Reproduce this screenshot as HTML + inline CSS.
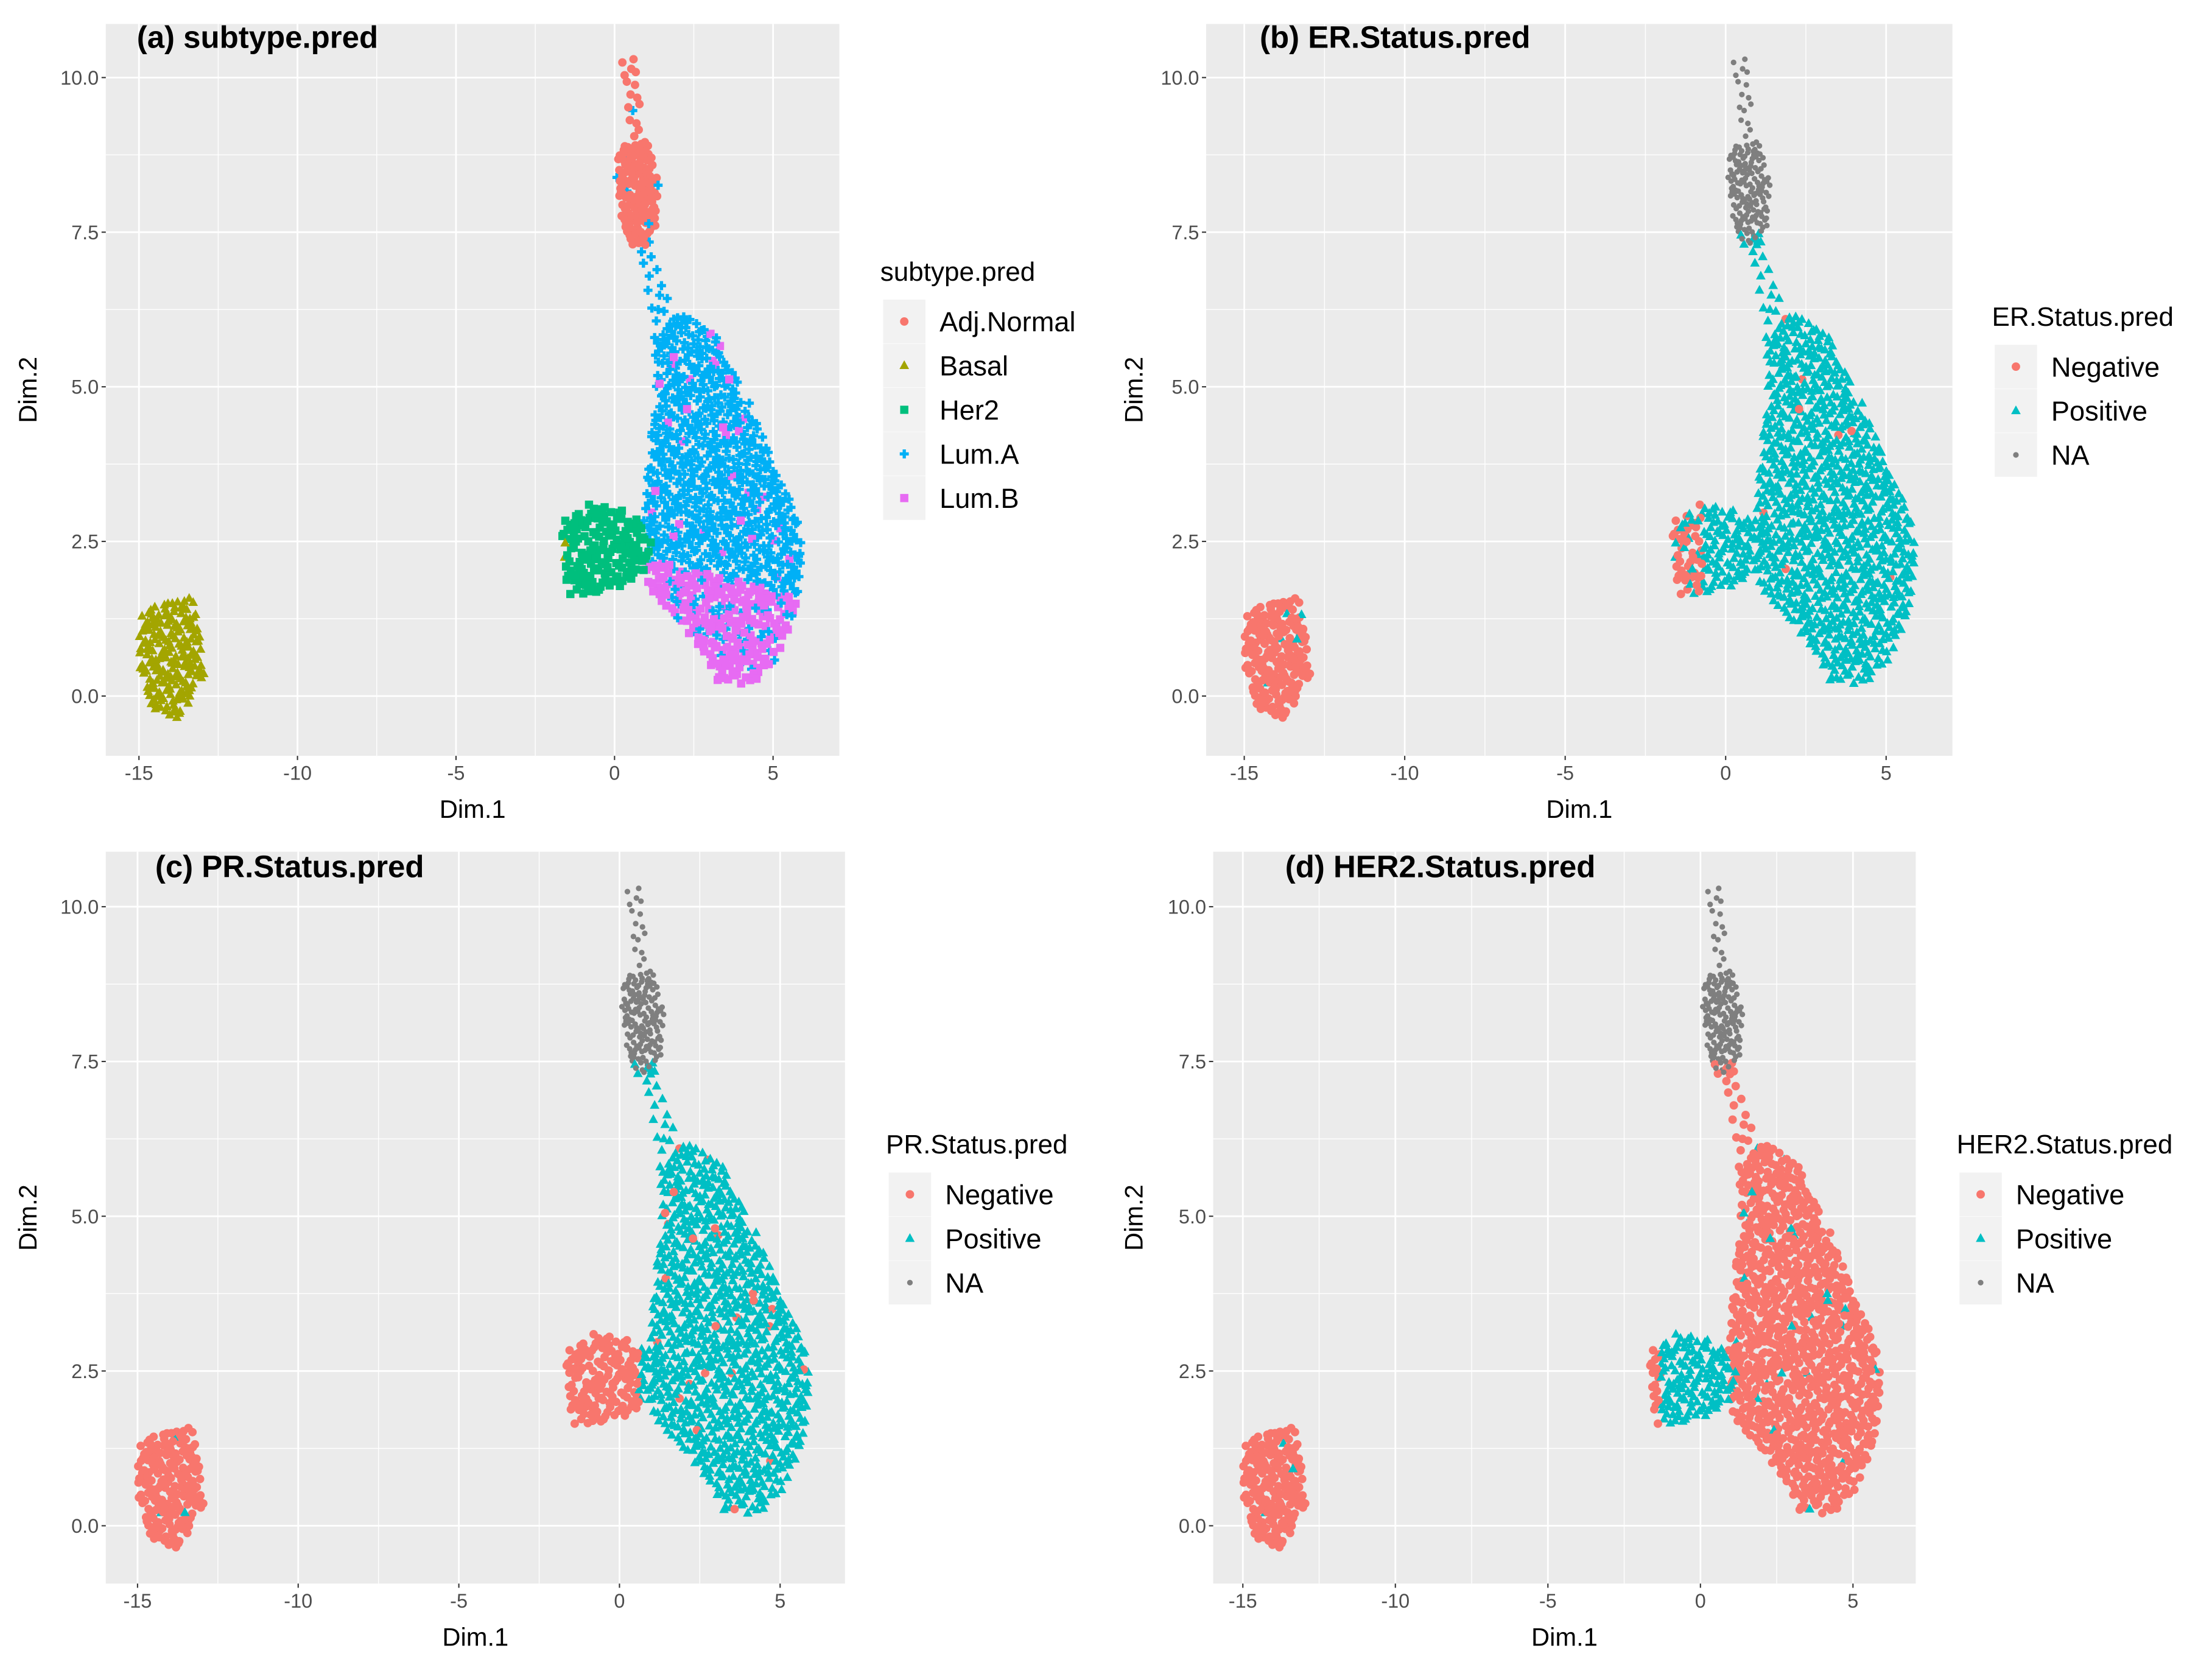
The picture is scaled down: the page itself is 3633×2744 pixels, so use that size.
<!DOCTYPE html>
<html><head><meta charset="utf-8">
<style>
html,body{margin:0;padding:0;background:#fff;}
svg{display:block;}
text{font-family:"Liberation Sans",sans-serif;}
</style></head>
<body>
<svg id="fig" xmlns="http://www.w3.org/2000/svg" width="3633" height="2744" viewBox="0 0 1568 1185" preserveAspectRatio="none"></svg>
<script>
// ---- data (cluster regions in Dim.1 / Dim.2 coordinates) ----
const regionNames = ["tip","top","stream","body","her2","basal"];
const regionPolys = [
  [[0.2,10.4],[0.6,10.4],[0.95,9.0],[0.45,9.0]],
  [[0.1,8.9],[1.0,9.0],[1.4,8.3],[1.3,7.6],[1.0,7.2],[0.5,7.3],[0.2,7.7],[0.05,8.5]],
  [[0.8,7.2],[1.35,7.2],[2.1,6.0],[1.3,5.8]],
  [[1.2,5.8],[2.2,6.2],[3.3,5.8],[4.2,4.8],[5.0,3.8],[5.7,3.0],[6.0,2.2],[5.6,1.2],[5.0,0.5],[4.3,0.2],[3.3,0.2],[2.5,0.9],[1.0,1.8],[0.9,2.6],[1.0,3.6],[1.3,4.8]],
  [[-1.7,2.8],[-0.8,3.1],[0.5,3.0],[1.2,2.5],[0.9,1.9],[-0.3,1.7],[-1.5,1.6]],
  [[-14.9,1.4],[-13.3,1.6],[-12.9,0.4],[-13.7,-0.4],[-14.6,-0.2],[-15.05,0.6]]
];
const regionCounts = [16,150,16,1000,160,200];
const xTicks = [-15,-10,-5,0,5];
const yTicks = [0,2.5,5,7.5,10];
const yTickLabels = ["0.0","2.5","5.0","7.5","10.0"];
const subtypeCats = ["Adj.Normal","Basal","Her2","Lum.A","Lum.B"];
const subtypeColors = ["#F8766D","#A3A500","#00BF7D","#00B0F6","#E76BF3"];
const statusCats = ["Negative","Positive","NA"];
const statusColors = ["#F8766D","#00BFC4","#7F7F7F"];

// panel geometry (display units)
const panels = [
  {id:"a", title:"(a) subtype.pred", L:75, R:595, T:17, B:536, x15:98.5, x5:548, y0:493.6, y10:55, tx:97, ty:34, legTitle:"subtype.pred", lx:626, ly:193, cats:subtypeCats, cols:subtypeColors, ylabX:20},
  {id:"b", title:"(b) ER.Status.pred", L:855, R:1384, T:17, B:536, x15:882, x5:1337, y0:493.6, y10:55, tx:893, ty:34, legTitle:"ER.Status.pred", lx:1414, ly:225, cats:statusCats, cols:statusColors, ylabX:804},
  {id:"c", title:"(c) PR.Status.pred", L:75, R:599, T:604, B:1123, x15:97.5, x5:553, y0:1082, y10:643, tx:110, ty:622, legTitle:"PR.Status.pred", lx:630, ly:812, cats:statusCats, cols:statusColors, ylabX:20},
  {id:"d", title:"(d) HER2.Status.pred", L:860, R:1358, T:604, B:1123, x15:881, x5:1313.5, y0:1082, y10:643, tx:911, ty:622, legTitle:"HER2.Status.pred", lx:1389, ly:812, cats:statusCats, cols:statusColors, ylabX:804}
];

const NS="http://www.w3.org/2000/svg";
const svg=document.getElementById("fig");
function mk(tag,attrs,parent){const e=document.createElementNS(NS,tag);for(const k in attrs)e.setAttribute(k,attrs[k]);(parent||svg).appendChild(e);return e;}
function halton(i,b){let f=1,r=0;while(i>0){f/=b;r+=f*(i%b);i=Math.floor(i/b);}return r;}
function inPoly(p,poly){let c=false;for(let i=0,j=poly.length-1;i<poly.length;j=i++){const a=poly[i],b=poly[j];if((a[1]>p[1])!=(b[1]>p[1])&&p[0]<(b[0]-a[0])*(p[1]-a[1])/(b[1]-a[1])+a[0])c=!c;}return c;}

const points=[];
regionPolys.forEach((poly,ri)=>{
  let minx=Infinity,maxx=-Infinity,miny=Infinity,maxy=-Infinity;
  poly.forEach(p=>{minx=Math.min(minx,p[0]);maxx=Math.max(maxx,p[0]);miny=Math.min(miny,p[1]);maxy=Math.max(maxy,p[1]);});
  let n=0,i=1+ri*37;
  while(n<regionCounts[ri]&&i<200000){
    const p=[minx+(maxx-minx)*halton(i,2),miny+(maxy-miny)*halton(i,3)];
    if(inPoly(p,poly)){points.push({r:regionNames[ri],x:p[0],y:p[1],k:n});n++;}
    i++;
  }
});

function classify(pid,pt){
  const r=pt.r,k=pt.k;
  if(pid==="a"){
    if(r==="tip"||r==="top") return (k%23===0)?3:0;
    if(r==="stream") return 3;
    if(r==="her2") return (pt.x<-1.4&&k%3===0)?1:2;
    if(r==="basal") return 1;
    const line=2.25-0.13*(pt.x-1);
    if(pt.y<line) return (k%6===0)?3:4;
    return (k%25===0)?4:3;
  }
  if(pid==="b"){
    if(r==="tip"||r==="top") return (pt.y<7.5&&k%2===0)?1:2;
    if(r==="her2") return (pt.x<-0.7&&k%3!==0)?0:1;
    if(r==="basal") return (k%40===0)?1:0;
    return (k%150===0)?0:1;
  }
  if(pid==="c"){
    if(r==="tip"||r==="top") return (pt.y<7.5&&k%2===0)?1:2;
    if(r==="her2") return pt.x<0.6?0:1;
    if(r==="basal") return (k%90===0)?1:0;
    return (k%45===0)?0:1;
  }
  if(r==="tip"||r==="top") return (pt.y<7.5&&k%2===0)?0:2;
  if(r==="her2") return (pt.x<-1.3)?0:1;
  if(r==="basal") return (k%80===0)?1:0;
  return (k%45===0)?1:0;
}

function marker(g,pid,cls,x,y,col){
  let e;
  const shape = pid==="a" ? ["c","t","s","p","x"][cls] : ["c","t","d"][cls];
  if(shape==="c") e=mk("circle",{cx:x,cy:y,r:3,fill:col},g);
  else if(shape==="d") e=mk("circle",{cx:x,cy:y,r:2,fill:col},g);
  else if(shape==="t") e=mk("polygon",{points:`${x},${y-3.8} ${x-3.4},${y+2.4} ${x+3.4},${y+2.4}`,fill:col},g);
  else if(shape==="s") e=mk("rect",{x:x-2.9,y:y-2.9,width:5.8,height:5.8,fill:col},g);
  else if(shape==="p") e=mk("path",{d:`M${x-3.2},${y}H${x+3.2}M${x},${y-3.2}V${y+3.2}`,stroke:col,"stroke-width":2.3,fill:"none"},g);
  else e=mk("rect",{x:x-2.9,y:y-2.9,width:5.8,height:5.8,fill:col},g);
  return e;
}

panels.forEach(P=>{
  const g=mk("g",{});
  
  
  const sx=v=>P.x15+(v+15)*(P.x5-P.x15)/20;
  const sy=v=>P.y0-v*(P.y0-P.y10)/10;
  const bg=mk("rect",{x:P.L,y:P.T,width:P.R-P.L,height:P.B-P.T,fill:"#EBEBEB"},g);
  
  
  for(let v=-17.5;v<=7.5;v+=5){const X=sx(v);if(X>P.L&&X<P.R)mk("line",{x1:X,x2:X,y1:P.T,y2:P.B,stroke:"#fff","stroke-width":0.6},g);}
  for(let v=-1.25;v<=11.25;v+=2.5){const Y=sy(v);if(Y>P.T&&Y<P.B)mk("line",{x1:P.L,x2:P.R,y1:Y,y2:Y,stroke:"#fff","stroke-width":0.6},g);}
  xTicks.forEach(v=>{const X=sx(v);
    mk("line",{x1:X,x2:X,y1:P.T,y2:P.B,stroke:"#fff","stroke-width":1.2},g);
    mk("line",{x1:X,x2:X,y1:P.B,y2:P.B+3,stroke:"#333","stroke-width":0.9},g);
    const t=mk("text",{x:X,y:P.B+17,"text-anchor":"middle","font-size":14,fill:"#4D4D4D"},g);t.textContent=String(v);
    
    
  });
  yTicks.forEach((v,i)=>{const Y=sy(v);
    mk("line",{x1:P.L,x2:P.R,y1:Y,y2:Y,stroke:"#fff","stroke-width":1.2},g);
    mk("line",{x1:P.L-3,x2:P.L,y1:Y,y2:Y,stroke:"#333","stroke-width":0.9},g);
    const t=mk("text",{x:P.L-5,y:Y+5,"text-anchor":"end","font-size":14,fill:"#4D4D4D"},g);t.textContent=yTickLabels[i];
    
    
  });
  const pg=mk("g",{},g);
  
  
  points.forEach(pt=>{const c=classify(P.id,pt);
    const m=marker(pg,P.id,c,sx(pt.x),sy(pt.y),P.cols[c]);
    
    
  });
  const tt=mk("text",{x:P.tx,y:P.ty,"font-size":22,"font-weight":"bold",fill:"#000"},g);tt.textContent=P.title;
  
  
  const xl=mk("text",{x:(P.L+P.R)/2,y:P.B+44,"text-anchor":"middle","font-size":18,fill:"#000"},g);xl.textContent="Dim.1";
  
  
  const cy=(P.T+P.B)/2;
  const yl=mk("text",{x:P.ylabX,y:cy,"text-anchor":"middle","font-size":18,fill:"#000",transform:`rotate(-90 ${P.ylabX} ${cy})`,dy:6},g);yl.textContent="Dim.2";
  
  
  const lg=mk("g",{},g);
  
  
  const lt=mk("text",{x:P.lx-2,y:P.ly+6,"font-size":19,fill:"#000"},lg);lt.textContent=P.legTitle;
  P.cats.forEach((c,i)=>{
    const Y=P.ly+35+i*31.3;
    const e=mk("g",{},lg);
    
    
    mk("rect",{x:P.lx,y:Y-15.5,width:30,height:31,fill:"#F2F2F2"},e);
    marker(e,P.id,i,P.lx+15,Y,P.cols[i]);
    const tx=mk("text",{x:P.lx+40,y:Y+7,"font-size":19.5,fill:"#000"},e);tx.textContent=c;
  });
});
</script>
</body></html>
